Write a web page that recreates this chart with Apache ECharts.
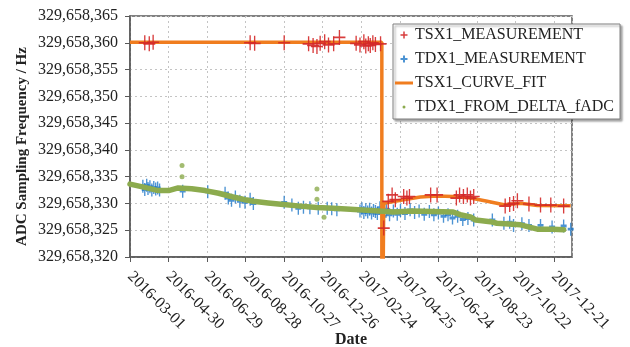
<!DOCTYPE html>
<html>
<head>
<meta charset="utf-8">
<script src="https://cdn.jsdelivr.net/npm/echarts@6/dist/echarts.min.js"></script>
<style>
  html, body { margin: 0; padding: 0; background: #fff; }
  #chart { width: 630px; height: 347px; }
</style>
</head>
<body>
<div id="chart"></div>
<script>
// x values are days counted from 2016-03-01
const START_DATE = Date.UTC(2016, 2, 1);
const X_MIN = 0;
const X_MAX = 688;
const X_STEP = 60;
const Y_MIN = 329658320;
const Y_MAX = 329658365;
const Y_STEP = 5;

const tsx1Measurement = [
  [23, 329658360.0], [30, 329658359.8], [36, 329658360.1],
  [187, 329658360.0], [194, 329658359.9], [240, 329658360.0],
  [278, 329658359.8], [285, 329658359.5], [291, 329658359.3], [296, 329658359.9],
  [303, 329658360.2], [309, 329658359.6], [317, 329658359.8], [326, 329658361.0],
  [352, 329658359.9], [358, 329658359.6], [364, 329658360.2], [367, 329658359.4],
  [371, 329658359.8], [374, 329658359.5], [378, 329658360.0], [382, 329658359.7], [390, 329658359.8],
  [395, 329658325.4], [402, 329658330.4], [408, 329658331.6], [413, 329658330.7],
  [426, 329658331.3], [431, 329658331.0], [435, 329658331.3],
  [468, 329658331.6], [478, 329658331.6], [508, 329658331.0], [513, 329658331.6],
  [519, 329658331.3], [525, 329658331.6], [530, 329658331.0], [535, 329658331.3],
  [584, 329658329.5], [591, 329658329.8], [597, 329658330.0], [603, 329658330.5],
  [621, 329658329.9], [639, 329658329.7], [655, 329658329.7], [675, 329658329.5]
];

const tdx1Measurement = [
  [20, 329658333.2], [23, 329658332.6], [26, 329658333.4], [28, 329658332.8], [31, 329658333.1],
  [34, 329658332.5], [37, 329658333.0], [40, 329658332.7], [43, 329658332.9], [46, 329658332.5],
  [82, 329658332.3], [121, 329658332.2], [148, 329658331.9],
  [153, 329658331.0], [158, 329658330.6], [164, 329658331.2], [171, 329658330.4],
  [179, 329658330.2], [187, 329658330.8], [192, 329658330.0],
  [240, 329658330.2], [252, 329658329.7], [262, 329658329.1], [270, 329658329.3],
  [280, 329658329.2], [293, 329658329.1], [307, 329658329.1], [314, 329658329.0], [322, 329658328.8],
  [358, 329658328.6], [361, 329658329.0], [364, 329658328.3], [367, 329658328.8], [370, 329658328.4],
  [373, 329658328.9], [376, 329658328.2], [379, 329658328.7], [382, 329658328.5], [385, 329658328.1],
  [389, 329658329.2], [395, 329658327.6], [399, 329658328.9], [404, 329658327.9], [410, 329658328.6],
  [416, 329658328.0], [421, 329658328.7], [428, 329658328.1], [436, 329658328.8], [443, 329658328.3],
  [450, 329658328.6], [458, 329658328.0], [466, 329658328.5], [473, 329658327.9], [480, 329658328.2],
  [488, 329658327.6], [495, 329658327.9], [502, 329658327.3], [510, 329658327.6], [518, 329658327.0],
  [526, 329658327.2], [535, 329658326.9], [564, 329658326.9], [582, 329658326.3], [591, 329658326.5],
  [597, 329658325.9], [610, 329658326.2], [621, 329658325.9], [639, 329658325.9], [657, 329658325.6],
  [675, 329658325.8], [686, 329658325.2]
];

const tsx1CurveFit = [
  [0, 329658360.1], [392, 329658360.1], [392, 329658290.0],
  [395, 329658330.05], [426, 329658330.7], [452, 329658331.2], [478, 329658331.4],
  [503, 329658331.3], [530, 329658331.0], [556, 329658330.4], [582, 329658329.75],
  [608, 329658330.05], [634, 329658329.6], [686, 329658329.55]
];

const tdx1FromDeltaFadc = [
  [0, 329658333.6], [23, 329658333.0], [44, 329658332.4], [60, 329658332.4], [75, 329658332.9],
  [96, 329658332.75], [117, 329658332.4], [138, 329658331.9], [159, 329658331.25], [179, 329658330.7],
  [192, 329658330.4], [215, 329658330.1], [239, 329658329.8], [265, 329658329.5], [291, 329658329.25],
  [316, 329658329.1], [343, 329658328.9], [387, 329658328.6], [410, 329658328.4], [440, 329658328.6],
  [470, 329658328.5], [503, 329658328.4], [514, 329658327.9], [530, 329658327.5], [538, 329658326.9],
  [561, 329658326.6], [571, 329658326.3], [608, 329658326.0], [634, 329658325.2], [659, 329658325.2],
  [675, 329658325.1]
];

const tdx1FromDeltaOutliers = [
  [81, 329658337.1], [81, 329658335.0], [291, 329658332.7], [291, 329658330.8], [302, 329658327.4]
];

const RED = '#d42828';
const BLUE = '#1f78c8';
const ORANGE = '#f07d1f';
const GREEN = '#8cab4e';
const FONT = 'Liberation Serif';

const PLUS = 'path://M0,5H10M5,0V10';
const PLUS_ICON = 'path://M0,0M14,14M3.5,7H10.5M7,3.5V10.5';
const DOT_ICON = 'path://M0,0M14,14M5.5,7a1.5,1.5 0 1,0 3,0a1.5,1.5 0 1,0 -3,0z';
const LINE_ICON = 'path://M0,0M18,14M0,5.5H18V8.5H0z';

function fmtDate(v) {
  return new Date(START_DATE + v * 86400000).toISOString().slice(0, 10);
}
function fmtHz(v) {
  return String(Math.round(v)).replace(/\B(?=(\d{3})+(?!\d))/g, ',');
}

const chart = echarts.init(document.getElementById('chart'));

const option = {
  animation: false,
  grid: {
    left: 130, right: 58, top: 16, bottom: 90,
    outerBoundsMode: 'none',
    containLabel: false,
    show: true, borderColor: '#595959', borderWidth: 1.5
  },
  legend: {
    orient: 'vertical',
    left: 393, top: 24,
    padding: [3, 6, 4, 2],
    itemGap: 8,
    itemWidth: 18, itemHeight: 14,
    backgroundColor: '#fff',
    borderColor: '#7f7f7f', borderWidth: 1,
    shadowColor: 'rgba(0,0,0,0.35)', shadowBlur: 2, shadowOffsetX: 2, shadowOffsetY: 2,
    textStyle: { fontFamily: FONT, fontSize: 16, color: '#222', padding: [0, 0, 0, -3] },
    data: [
      { name: 'TSX1_MEASUREMENT', icon: PLUS_ICON, itemStyle: { color: RED, borderColor: RED, borderWidth: 1.5 } },
      { name: 'TDX1_MEASUREMENT', icon: PLUS_ICON, itemStyle: { color: BLUE, borderColor: BLUE, borderWidth: 2 } },
      { name: 'TSX1_CURVE_FIT', icon: LINE_ICON, itemStyle: { color: ORANGE, borderWidth: 0 } },
      { name: 'TDX1_FROM_DELTA_fADC', icon: DOT_ICON, itemStyle: { color: GREEN, borderWidth: 0 } }
    ]
  },
  xAxis: {
    type: 'value',
    min: X_MIN, max: X_MAX, interval: X_STEP,
    name: 'Date',
    nameLocation: 'middle',
    nameGap: 75,
    nameMoveOverlap: false,
    nameTextStyle: { fontFamily: FONT, fontSize: 16, fontWeight: 'bold', color: '#222' },
    axisLine: { show: true, lineStyle: { color: '#595959', width: 1.5 } },
    axisTick: { show: true, length: 5, lineStyle: { color: '#595959' } },
    axisLabel: {
      rotate: -45, margin: 17,
      fontFamily: FONT, fontSize: 16, color: '#222',
      showMaxLabel: false,
      formatter: v => (v % X_STEP === 0 ? fmtDate(v) : '')
    },
    splitLine: { show: true, lineStyle: { color: '#c4c4c4', type: [2, 3], width: 1 } }
  },
  yAxis: {
    type: 'value',
    min: Y_MIN, max: Y_MAX, interval: Y_STEP,
    name: 'ADC Sampling Frequency / Hz',
    nameLocation: 'middle',
    nameGap: 100,
    nameMoveOverlap: false,
    nameTextStyle: { fontFamily: FONT, fontSize: 15, fontWeight: 'bold', color: '#222', padding: [0, 20, 0, 0] },
    axisLine: { show: true, lineStyle: { color: '#595959', width: 1.5 } },
    axisTick: { show: true, length: 5, lineStyle: { color: '#595959' } },
    axisLabel: { margin: 12, fontFamily: FONT, fontSize: 16, color: '#222', formatter: fmtHz },
    splitLine: { show: true, lineStyle: { color: '#c4c4c4', type: [2, 3], width: 1 } }
  },
  series: [
    {
      name: 'TSX1_MEASUREMENT',
      type: 'scatter',
      data: tsx1Measurement,
      symbol: PLUS,
      symbolSize: [12, 15],
      itemStyle: { color: RED, borderColor: RED, borderWidth: 1.5, opacity: 0.9 },
      z: 4
    },
    {
      name: 'TDX1_MEASUREMENT',
      type: 'scatter',
      data: tdx1Measurement,
      symbol: PLUS,
      symbolSize: [6, 13],
      itemStyle: { color: BLUE, borderColor: BLUE, borderWidth: 2 },
      z: 2
    },
    {
      name: 'TSX1_CURVE_FIT',
      type: 'line',
      data: tsx1CurveFit,
      showSymbol: false,
      symbol: 'none',
      lineStyle: { color: ORANGE, width: 3.5 },
      itemStyle: { color: ORANGE },
      z: 3
    },
    {
      name: 'TDX1_FROM_DELTA_fADC',
      type: 'line',
      data: tdx1FromDeltaFadc,
      showSymbol: false,
      symbol: 'none',
      lineStyle: { color: GREEN, width: 5.5, cap: 'round', join: 'round' },
      itemStyle: { color: GREEN },
      z: 3
    },
    {
      name: 'TDX1_FROM_DELTA_fADC',
      type: 'scatter',
      data: tdx1FromDeltaOutliers,
      symbol: 'circle',
      symbolSize: 5,
      itemStyle: { color: GREEN },
      z: 3
    }
  ]
};

chart.setOption(option);
</script>
</body>
</html>
